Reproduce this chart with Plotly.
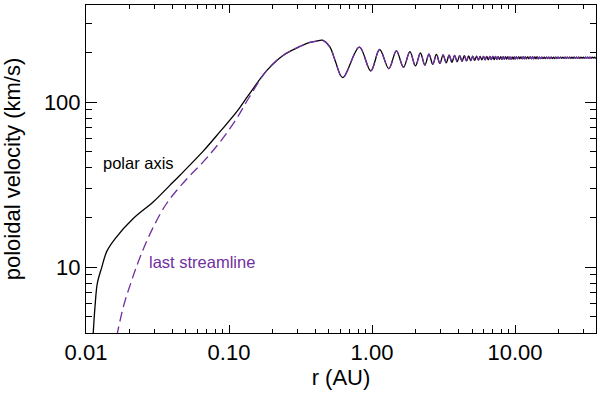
import plotly.graph_objects as go

# polar axis, rising part (r in AU, v in km/s)
r_polar_rise = [0.0112, 0.01156, 0.0120, 0.0129, 0.0140, 0.0160, 0.0214, 0.0296,
                0.0387, 0.0454, 0.066, 0.0865, 0.113, 0.1365]
v_polar_rise = [3.8, 5.74, 7.96, 10.0, 12.5, 14.9, 19.7, 24.9,
                31.4, 36.1, 50.5, 66.3, 87.3, 110]

# last streamline, rising part
r_stream_rise = [0.0164, 0.01825, 0.0209, 0.0239, 0.0288, 0.0366, 0.0492,
                 0.066, 0.0865, 0.113, 0.1365]
v_stream_rise = [3.8, 5.74, 8.34, 11.5, 16.7, 24.3, 33.3,
                 43.5, 57.4, 79.6, 105]

# both curves lie on top of each other from here on (peaks / troughs)
r_shared = [0.184, 0.240, 0.314, 0.358, 0.410, 0.450, 0.508, 0.551,
            0.624, 0.815, 0.98, 1.13, 1.31, 1.48, 1.66,
            1.84, 2.01, 2.18, 2.34, 2.50, 2.66, 2.82, 2.98,
            3.14, 3.30, 3.46, 3.62, 3.78, 3.94, 4.10, 4.26,
            4.42, 4.58, 4.74, 4.90, 5.06, 5.22, 5.38, 5.54,
            5.70, 5.86, 6.02, 6.18, 6.34, 6.50, 6.66, 6.82,
            6.98, 7.14, 7.30, 7.46, 7.62, 7.78, 7.94, 8.10,
            8.26, 8.42, 8.58, 8.74, 8.90, 9.06, 9.22, 9.38,
            9.54, 9.70, 9.86, 10.02]
v_shared = [156, 193, 218, 229, 235, 238, 216, 180,
            141, 216, 155, 209, 160, 205, 163,
            203, 166, 199, 168, 196, 170, 195, 172,
            194, 173.5, 193, 175, 192.5, 176, 192, 177,
            191.5, 178, 191, 179, 190.5, 179.5, 190.5, 180,
            190, 180.5, 190, 181, 190, 181, 189.5, 181.5,
            189.5, 181.5, 189.5, 182, 189, 182, 189, 182,
            189, 182.5, 189, 182.5, 189, 182.5, 188.5, 183,
            188.5, 183, 188.5, 183]

# far out the wiggles are too tight to resolve -> thin band
r_band = [10.2, 10.4, 10.6, 10.8, 11.0, 11.2, 11.4, 11.6, 11.8, 12.0,
          12.25, 12.5, 12.75, 13.0, 13.25, 13.5, 13.75, 14.0, 14.25, 14.5,
          14.8, 15.1, 15.4, 15.7, 16.0, 16.3, 16.6, 16.9, 17.2,
          17.55, 17.9, 18.25, 18.6, 18.95, 19.3, 19.65, 20.0,
          20.4, 20.8, 21.2, 21.6, 22.0, 22.4, 22.8, 23.2,
          23.65, 24.1, 24.55, 25.0, 25.45, 25.9,
          26.4, 26.9, 27.4, 27.9, 28.4, 28.9,
          29.45, 30.0, 30.55, 31.1, 31.65, 32.2,
          32.8, 33.4, 34.0, 34.6, 35.2, 35.8, 36.4, 37.0, 37.6]
v_band = [188.5, 183.5, 188.5, 183.5, 188.5, 183.5, 188.5, 183.5, 188.5, 183.5,
          188.5, 183.5, 188.5, 183.5, 188.5, 183.5, 188.5, 183.5, 188.5, 183.5,
          188, 184, 188, 184, 188, 184, 188, 184, 188,
          184, 188, 184, 188, 184, 188, 184, 188,
          184.5, 188, 184.5, 188, 184.5, 188, 184.5, 188,
          184.5, 188, 184.5, 188, 184.5, 188,
          184.5, 188, 184.5, 188, 184.5, 188,
          185, 187.5, 185, 187.5, 185, 187.5,
          185, 187.5, 185, 187.5, 185, 187.5, 185, 187.5, 185]

x_ticks = [0.01, 0.1, 1, 10]
x_ticktext = ["0.01", "0.10", "1.00", "10.00"]
y_ticks = [10, 100]
y_ticktext = ["10", "100"]

purple = '#7030A0'
font_name = "Liberation Sans, Arial, sans-serif"

fig = go.Figure()

fig.add_trace(go.Scatter(
    x=r_polar_rise + r_shared + r_band,
    y=v_polar_rise + v_shared + v_band,
    mode='lines',
    line=dict(color='black', width=1.3, shape='spline'),
    name='polar axis'
))

fig.add_trace(go.Scatter(
    x=r_stream_rise + r_shared + r_band,
    y=v_stream_rise + v_shared + v_band,
    mode='lines',
    line=dict(color=purple, width=1.3, shape='spline', dash='10px,5px'),
    name='last streamline'
))

fig.add_annotation(text="polar axis", xref='paper', yref='paper', x=0.102, y=0.518,
                   xanchor='center', yanchor='middle', showarrow=False,
                   font=dict(family=font_name, size=16.5, color='black'))
fig.add_annotation(text="last streamline", xref='paper', yref='paper', x=0.228, y=0.216,
                   xanchor='center', yanchor='middle', showarrow=False,
                   font=dict(family=font_name, size=16.5, color=purple))

axis_common = dict(
    showline=True, linecolor='black', linewidth=1, mirror='ticks',
    ticks='inside', tickcolor='black', tickwidth=1,
    showgrid=False, zeroline=False, automargin=False,
    tickfont=dict(family=font_name, size=22, color='black'),
)

fig.update_xaxes(
    type='log', range=[-2, 1.566],
    tickvals=x_ticks, ticktext=x_ticktext, ticklen=8,
    minor=dict(ticks='inside', ticklen=4, dtick='D1', tickcolor='black', showgrid=False),
    title=dict(text="r (AU)", font=dict(family=font_name, size=22, color='black'), standoff=5),
    **axis_common
)
fig.update_yaxes(
    type='log', range=[0.6, 2.590],
    tickvals=y_ticks, ticktext=y_ticktext, ticklen=11,
    minor=dict(ticks='inside', ticklen=6, dtick='D1', tickcolor='black', showgrid=False),
    title=dict(text="poloidal velocity (km/s)", font=dict(family=font_name, size=22, color='black'), standoff=18),
    **axis_common
)

fig.update_layout(
    width=600, height=397,
    margin=dict(l=86, r=4, t=5, b=64),
    plot_bgcolor='white', paper_bgcolor='white',
    showlegend=False,
    font=dict(family=font_name, color='black'),
)

# drop the browser's default 8px body margin so the figure sits at 0,0
fig.write_html("out.html", config={'displayModeBar': False},
               post_script="document.body.style.margin='0px';document.body.style.overflow='hidden';")
